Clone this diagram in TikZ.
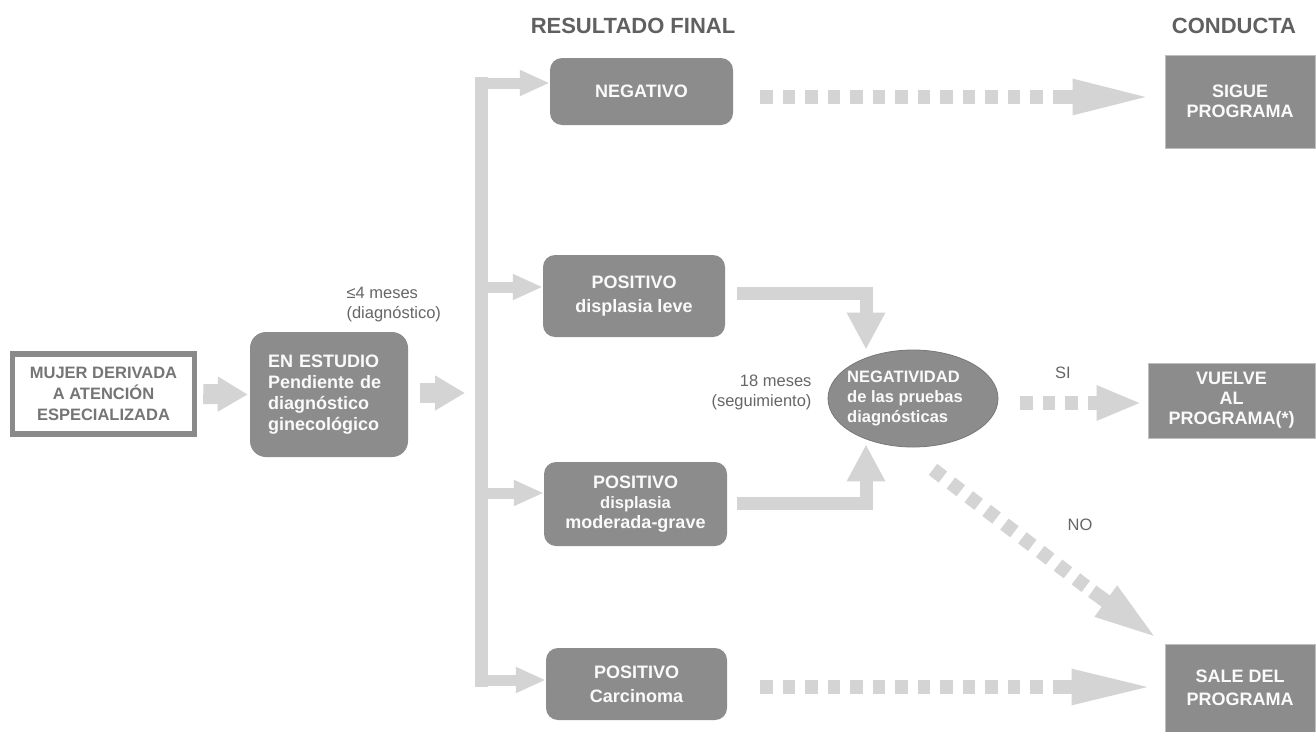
\documentclass[tikz,border=0pt]{standalone}
\usepackage{fontspec}
\setmainfont{Liberation Sans}
\usetikzlibrary{arrows.meta,shapes.geometric,calc}
\definecolor{boxgray}{HTML}{8C8C8C}
\definecolor{arrowgray}{HTML}{D4D4D4}
\definecolor{headgray}{HTML}{606060}
\definecolor{labelgray}{HTML}{666666}
\definecolor{framegray}{HTML}{8A8A8A}
\definecolor{boxtext}{HTML}{FAFAFA}

\begin{document}
\begin{tikzpicture}[x=1pt,y=-1pt,
  boxfont/.style={font=\fontsize{18}{#1}\selectfont\bfseries},
  resbox/.style={fill=boxgray, text=boxtext, align=center, inner sep=0pt,
    rounded corners=12pt},
  endbox/.style={fill=boxgray, text=boxtext, align=center, inner sep=0pt,
    draw=black!25, line width=0.8pt},
  lbl/.style={text=labelgray, font=\fontsize{16.5}{20}\selectfont},
  head/.style={text=headgray, font=\fontsize{22}{24}\selectfont\bfseries},
  bigarrow/.style={draw=arrowgray, line width=20pt,
    -{Triangle[length=30pt,width=33pt]}},
  trunk/.style={draw=arrowgray, line width=13pt, line cap=rect},
  branch/.style={draw=arrowgray, line width=11pt,
    -{Triangle[length=30pt,width=24pt]}},
  elbow/.style={draw=arrowgray, line width=13pt, line join=miter,
    -{Triangle[length=37pt,width=36pt]}},
  dots/.style={draw=arrowgray, line width=14pt, dash pattern=on 12.5pt off 10pt},
  dothead/.style={draw=arrowgray, line width=14pt,
    -{Triangle[length=#1,width=32pt]}},
]
\useasboundingbox[fill=white] (0,0) rectangle (1316,731);

% column headings
\node[head] (hres) at (633,26) {RESULTADO FINAL};
\node[head] (hcon) at (1234,26) {CONDUCTA};

% entry
\node[draw=framegray, line width=5.5pt, fill=white, text=framegray!85!black,
  minimum width=182pt, minimum height=80pt, align=center, inner sep=0pt,
  font=\fontsize{16.5}{21}\selectfont\bfseries]
  (mujer) at (103.5,394) {MUJER DERIVADA\\A ATENCIÓN\\ESPECIALIZADA};

\node[resbox, boxfont=21, rounded corners=16pt, align=left, text width=122pt,
  inner xsep=18pt, minimum height=125pt]
  (estudio) at (329,394.5) {EN ESTUDIO\\Pendiente de\\diagnóstico\\ginecológico};

\node[lbl, anchor=west, align=left] (plazo1) at (343,305) {≤4 meses\\(diagnóstico)};

% results
\node[resbox, boxfont=20, minimum width=183pt, minimum height=67pt]
  (neg) at (641.5,91.5) {NEGATIVO};
\node[resbox, boxfont=24, minimum width=182pt, minimum height=82pt]
  (leve) at (634,296) {POSITIVO\\displasia leve};
\node[resbox, boxfont=20, minimum width=183pt, minimum height=84pt]
  (mod) at (635.5,504) {POSITIVO\\\fontsize{16.5}{19.5}\selectfont displasia\\moderada-grave};
\node[resbox, boxfont=24, minimum width=181pt, minimum height=72pt]
  (carc) at (636.5,684) {POSITIVO\\Carcinoma};

% follow-up test: the oval and its text, set a little left of centre
\node[ellipse, fill=boxgray, draw=boxgray!85!black, line width=0.8pt,
  minimum width=170pt, minimum height=97pt, inner sep=0pt]
  (ell) at (913,398.5) {};
\node[text=boxtext, align=left, inner sep=0pt,
  font=\fontsize{16.5}{20}\selectfont\bfseries]
  (elltext) at ([xshift=-8pt]ell.center) {NEGATIVIDAD\\de las pruebas\\diagnósticas};
\node[lbl, anchor=east, align=right] (plazo2) at (815,392) {18 meses\\(seguimiento)};

% outcomes
\node[endbox, boxfont=20, minimum width=150pt, minimum height=93pt]
  (sigue) at (1240,101.5) {SIGUE\\PROGRAMA};
\node[endbox, boxfont=20, minimum width=167pt, minimum height=75pt]
  (vuelve) at (1231.5,400.5) {VUELVE\\AL\\PROGRAMA(*)};
\node[endbox, boxfont=23, minimum width=150pt, minimum height=88pt]
  (sale) at (1240,688) {SALE DEL\\PROGRAMA};

\node[lbl] (si) at (1063,373) {SI};
\node[lbl] (no) at (1080,525) {NO};

% entry arrows
\draw[bigarrow, shorten >=2pt] ([xshift=6pt]mujer.east) -- (estudio.west);
\coordinate (hub) at (465,393);
\draw[bigarrow] ([xshift=12pt,yshift=1.5pt]estudio.east) -- (hub);

% distribution trunk and branches
\coordinate (ttop) at (481.5,83);
\coordinate (tbot) at (481.5,680);
\draw[trunk] (ttop) -- (tbot);
\draw[branch] (ttop) -- ([yshift=8.5pt]neg.west);
\draw[branch] (ttop |- 0,287) coordinate (tl) -- ([yshift=9pt]leve.west);
\draw[branch] (ttop |- 0,493) coordinate (tm) -- ([yshift=11pt]mod.west);
\draw[branch] (tbot) -- ([yshift=4pt]carc.west);

% into the follow-up test
\draw[elbow] ([xshift=12pt,yshift=3pt]leve.east) -| ([xshift=-47pt]ell.north);
\draw[elbow] ([xshift=10pt,yshift=1pt]mod.east) -| ([xshift=-47pt,yshift=3pt]ell.south);

% dotted routes to the outcomes
\draw[dots] ([xshift=27pt,yshift=-5.5pt]neg.east) -- ++(285,0) coordinate (nd);
\draw[dothead=80pt] ([xshift=8pt]nd) -- ([xshift=-12pt,yshift=4.5pt]sigue.west);

\draw[dots] ([xshift=22pt,yshift=-4.5pt]ell.east) -- ++(57.5,0) coordinate (sd);
\draw[dothead=45pt] ([xshift=10pt]sd) -- ([xshift=-6pt,yshift=-2.5pt]vuelve.west);

\coordinate (nstart) at ([xshift=20pt,yshift=-22pt]ell.south);
\draw[dots] (nstart) -- ++(152.8,117) coordinate (ndd);
\draw[draw=arrowgray, line width=14pt, -{Triangle[length=64pt,width=34pt]}]
  ($(ndd)+(6.4,4.9)$) -- ([xshift=-7pt,yshift=5pt]sale.north west);

\draw[dots] ([xshift=33pt,yshift=-3pt]carc.east) -- ++(285,0) coordinate (cd);
\draw[dothead=83pt] ([xshift=8pt]cd) -- ([xshift=-10pt,yshift=1pt]sale.west);
\end{tikzpicture}
\end{document}
